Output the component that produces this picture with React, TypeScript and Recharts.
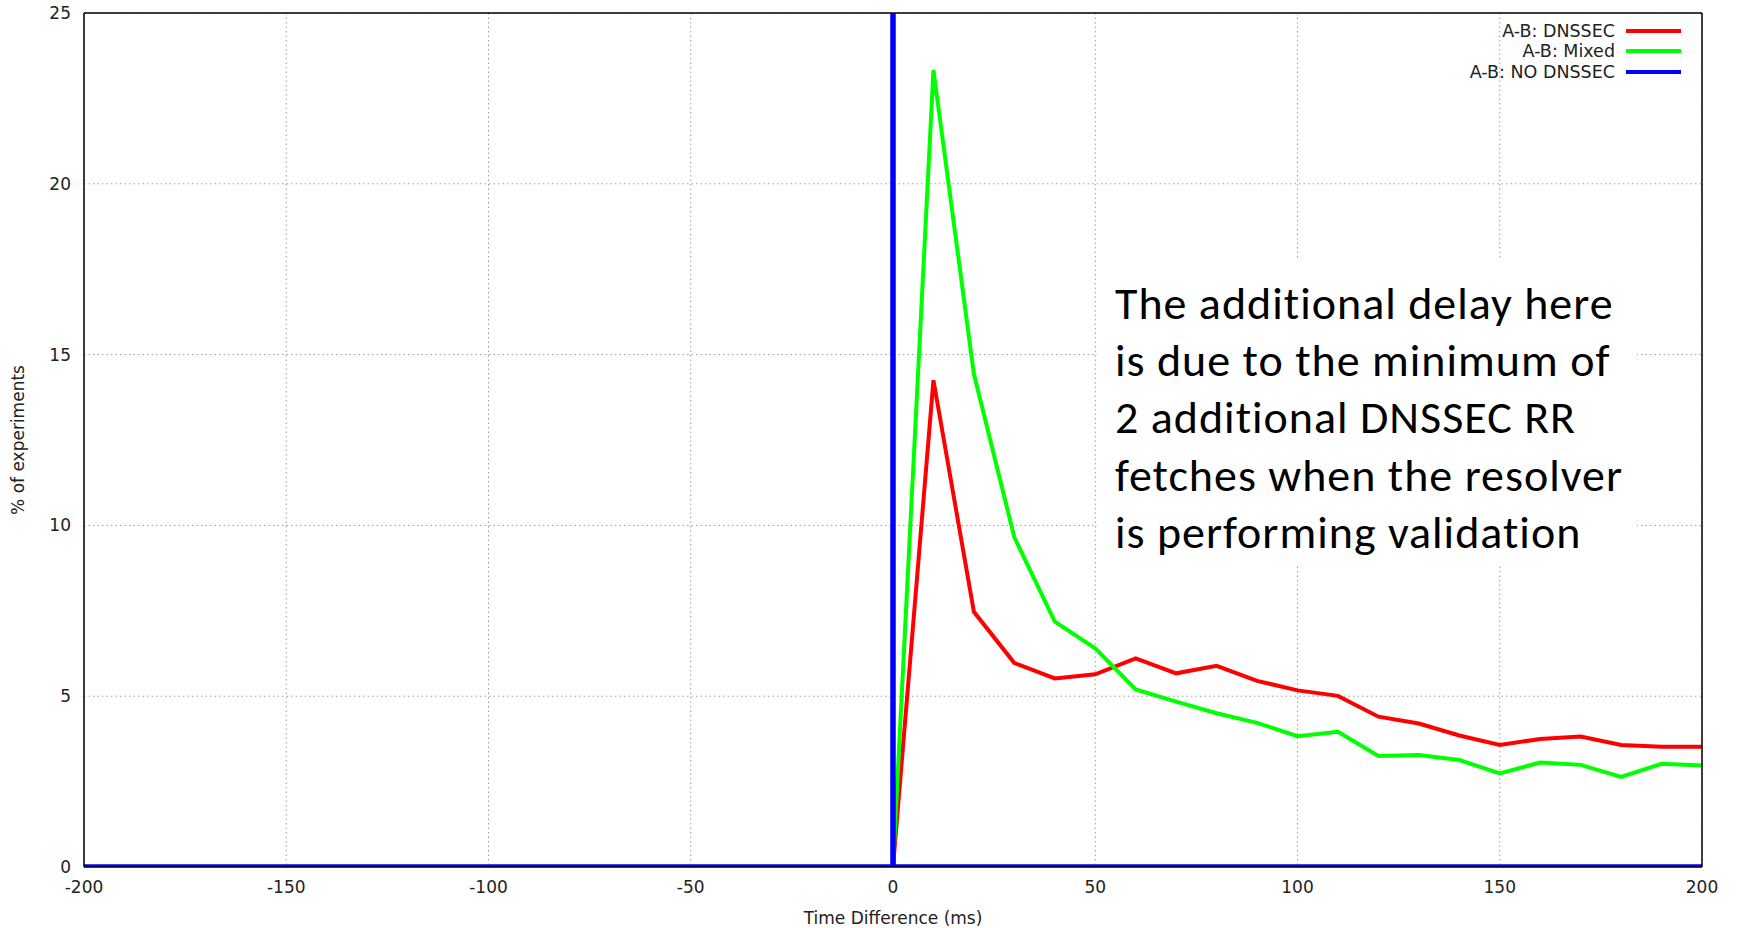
import { LineChart, Line, XAxis, YAxis, CartesianGrid, Legend } from "recharts"

// time difference A-B, 10ms bins
const delayMs = [0, 10, 20, 30, 40, 50, 60, 70, 80, 90, 100, 110, 120, 130, 140, 150, 160, 170, 180, 190, 200]
const dnssecPct = [0, 14.25, 7.47, 5.97, 5.52, 5.64, 6.11, 5.67, 5.89, 5.45, 5.17, 5.01, 4.4, 4.2, 3.85, 3.57, 3.75, 3.82, 3.57, 3.52, 3.52]
const mixedPct = [0, 23.33, 14.43, 9.65, 7.18, 6.4, 5.2, 4.84, 4.5, 4.22, 3.83, 3.96, 3.25, 3.28, 3.13, 2.74, 3.06, 2.99, 2.64, 3.02, 2.97]
// no dnssec: every experiment lands at 0ms
const noDnssecMs = [-200, 0, 0, 0, 200]
const noDnssecPct = [0, 0, 100, 0, 0]

const xTicks = [-200, -150, -100, -50, 0, 50, 100, 150, 200]
const yTicks = [0, 5, 10, 15, 20, 25]

const noteLines = [
  "The additional delay here",
  "is due to the minimum of",
  "2 additional DNSSEC RR",
  "fetches when the resolver",
  "is performing validation",
]

const series = [
  { name: "A-B: DNSSEC", color: "#ff0000", width: 4, data: delayMs.map((t, i) => ({ t, pct: dnssecPct[i] })) },
  { name: "A-B: Mixed", color: "#00ff00", width: 4, data: delayMs.map((t, i) => ({ t, pct: mixedPct[i] })) },
  { name: "A-B: NO DNSSEC", color: "#0000ff", width: 5.5, data: noDnssecMs.map((t, i) => ({ t, pct: noDnssecPct[i] })) },
]

const font = "'DejaVu Sans', Verdana, sans-serif"
const tickStyle = { fill: "#222", fontSize: 17, fontFamily: font }
const tickLine = { stroke: "#222", strokeWidth: 1.5 }
const border = { stroke: "#000", strokeWidth: 1.5 }

function renderLegend() {
  return (
    <div style={{ fontFamily: font, fontSize: 17.5, color: "#222" }}>
      {series.map((s) => (
        <div key={s.name} style={{ display: "flex", justifyContent: "flex-end", alignItems: "center", height: 20.3 }}>
          <span>{s.name}</span>
          <span style={{ display: "inline-block", width: 55, height: 4, background: s.color, marginLeft: 11, marginRight: 19 }} />
        </div>
      ))}
    </div>
  )
}

export default function App() {
  return (
    <div style={{ position: "absolute", left: 0, top: 0, width: 1737, height: 928, background: "#fff" }}>
      <LineChart width={1737} height={928} margin={{ top: 13, right: 35, bottom: 0, left: 0 }}>
        <CartesianGrid stroke="#9a9a9a" strokeDasharray="1.5 3" horizontalValues={yTicks} verticalValues={xTicks} />
        <XAxis
          dataKey="t"
          type="number"
          domain={[-200, 200]}
          ticks={xTicks}
          height={61}
          tickSize={0}
          tickMargin={14}
          tick={tickStyle}
          axisLine={border}
          allowDataOverflow
          label={{ value: "Time Difference (ms)", position: "insideBottom", offset: 4, style: { fill: "#222", fontSize: 17, fontFamily: font } }}
        />
        <XAxis xAxisId="bticks" type="number" domain={[-200, 200]} ticks={xTicks} orientation="bottom" mirror tick={false} tickSize={9} tickLine={tickLine} axisLine={false} />
        <XAxis xAxisId="top" type="number" domain={[-200, 200]} ticks={xTicks} orientation="top" mirror tick={false} tickSize={9} tickLine={tickLine} axisLine={border} />
        <YAxis
          type="number"
          domain={[0, 25]}
          ticks={yTicks}
          width={84}
          tickSize={0}
          tickMargin={13}
          tick={tickStyle}
          axisLine={border}
          allowDataOverflow
          label={{
            content: ({ viewBox }: any) => (
              <text
                x={viewBox.x + 18}
                y={viewBox.y + viewBox.height / 2}
                transform={`rotate(-90 ${viewBox.x + 18} ${viewBox.y + viewBox.height / 2})`}
                textAnchor="middle"
                dominantBaseline="central"
                fill="#222"
                fontSize={17}
                fontFamily={font}
              >
                % of experiments
              </text>
            ),
          }}
        />
        <YAxis yAxisId="lticks" type="number" domain={[0, 25]} ticks={yTicks} orientation="left" mirror tick={false} tickSize={9} tickLine={tickLine} axisLine={false} />
        <YAxis yAxisId="right" type="number" domain={[0, 25]} ticks={yTicks} orientation="right" mirror tick={false} tickSize={9} tickLine={tickLine} axisLine={border} />
        <Legend
          layout="vertical"
          align="center"
          verticalAlign="middle"
          content={renderLegend}
          wrapperStyle={{ left: 1400, top: 21, width: 300, height: 62 }}
        />
        {series.map((s) => (
          <Line
            key={s.name}
            data={s.data}
            dataKey="pct"
            name={s.name}
            type="linear"
            stroke={s.color}
            strokeWidth={s.width}
            dot={false}
            activeDot={false}
            isAnimationActive={false}
          />
        ))}
      </LineChart>
      <div
        style={{
          position: "absolute",
          left: 1097,
          top: 260,
          width: 540,
          height: 305,
          background: "#fff",
          boxSizing: "border-box",
          paddingLeft: 18,
          paddingTop: 15,
          fontFamily: "Carlito, Calibri, Lato, sans-serif",
          fontSize: 46,
          letterSpacing: 1,
          lineHeight: "57.2px",
          color: "#000",
          whiteSpace: "nowrap",
        }}
      >
        {noteLines.map((l) => (
          <div key={l}>{l}</div>
        ))}
      </div>
    </div>
  )
}
